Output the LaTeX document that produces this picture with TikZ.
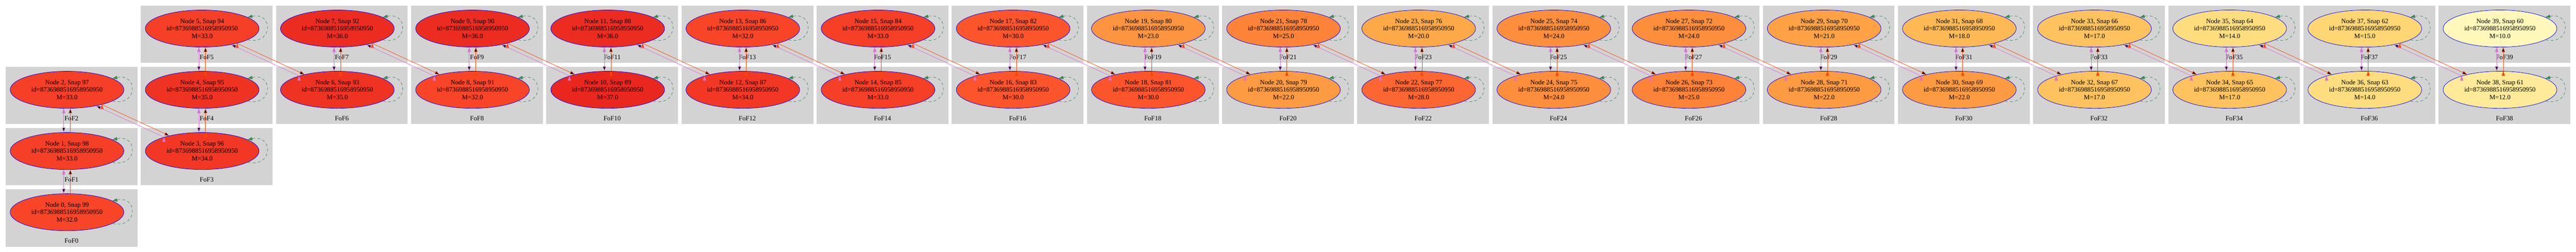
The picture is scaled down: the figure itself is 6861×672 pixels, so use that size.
\documentclass[tikz,border=0pt]{standalone}
\usepackage{fontspec}
\setmainfont{Liberation Serif}
\usetikzlibrary{shapes.geometric,positioning,arrows.meta}

\definecolor{fofgray}{HTML}{D3D3D3}
\definecolor{seagreen}{HTML}{2E8B57}
\definecolor{orchid}{HTML}{DA70D6}
\definecolor{orangered}{HTML}{FF4500}
\definecolor{mass10}{HTML}{FFF8BA}
\definecolor{mass12}{HTML}{FFEA9A}
\definecolor{mass14}{HTML}{FEDD7F}
\definecolor{mass15}{HTML}{FED673}
\definecolor{mass17}{HTML}{FEC25E}
\definecolor{mass18}{HTML}{FEB954}
\definecolor{mass20}{HTML}{FEA948}
\definecolor{mass21}{HTML}{FEA245}
\definecolor{mass22}{HTML}{FD9B42}
\definecolor{mass23}{HTML}{FD943F}
\definecolor{mass24}{HTML}{FD8E3C}
\definecolor{mass25}{HTML}{FD8339}
\definecolor{mass28}{HTML}{FC6631}
\definecolor{mass30}{HTML}{FC552C}
\definecolor{mass32}{HTML}{F84528}
\definecolor{mass33}{HTML}{F53F26}
\definecolor{mass34}{HTML}{F23824}
\definecolor{mass35}{HTML}{EF3323}
\definecolor{mass36}{HTML}{EC2C21}
\definecolor{mass37}{HTML}{E9271F}

\tikzset{
	fof/.style={rectangle,fill=fofgray,inner sep=0pt,minimum width=280.8pt,minimum height=122.4pt},
	fofname/.style={anchor=base,yshift=7.8pt,inner sep=0pt,font=\fontsize{14pt}{16pt}\selectfont},
	halo/.style={ellipse,draw=blue,line width=0.8pt,inner sep=0pt,minimum width=242.4pt,minimum height=79.2pt,
		align=center,font=\fontsize{14pt}{16pt}\selectfont},
	selfloop/.style={draw=seagreen,line width=0.8pt,dash pattern=on 6pt off 5pt,-{Triangle[length=10pt,width=7pt]},
		to path={(\tikztostart.-14) .. controls +(68,-15) and +(69,15) .. (\tikztostart.14)}},
	prog/.style={draw=orangered,line width=0.8pt,-{Triangle[length=10pt,width=7pt]}},
	desc/.style={draw=orchid,line width=0.8pt,-{Triangle[length=10pt,width=7pt]}}
}

\begin{document}
\begin{tikzpicture}[x=0.8pt,y=0.8pt,node distance=130.67pt and 288pt,on grid]
			\useasboundingbox (0,0) rectangle (6861,672);
			% FoF0 - FoF2
			\node[fof,label={[fofname]south:FoF0}] (fof0) at (190.5,90.5) {};
			\node[fof,label={[fofname]south:FoF1}] (fof1) [above=of fof0] {};
			\node[fof,label={[fofname]south:FoF2}] (fof2) [above=of fof1] {};
			\node[halo,fill=mass32] (n0) [above left=12.2pt and 9.6pt of fof0] {Node 0, Snap 99\\id=8736988516958950950\\M=32.0};
				\path (n0) edge[selfloop] (n0);
			\node[halo,fill=mass33] (n1) [above left=12.2pt and 9.6pt of fof1] {Node 1, Snap 98\\id=8736988516958950950\\M=33.0};
				\path (n1) edge[selfloop] (n1);
				\path[prog] (n0.80) edge (n1.-80);
				\path[desc] (n1.-100) edge (n0.100);
			\node[halo,fill=mass33] (n2) [above left=12.2pt and 9.6pt of fof2] {Node 2, Snap 97\\id=8736988516958950950\\M=33.0};
				\path (n2) edge[selfloop] (n2);
				\path[prog] (n1.80) edge (n2.-80);
				\path[desc] (n2.-100) edge (n1.100);
			% FoF3 - FoF5
			\node[fof,label={[fofname]south:FoF3}] (fof3) [right=of fof1] {};
			\node[fof,label={[fofname]south:FoF4}] (fof4) [above=of fof3] {};
			\node[fof,label={[fofname]south:FoF5}] (fof5) [above=of fof4] {};
			\node[halo,fill=mass34] (n3) [above left=12.2pt and 9.6pt of fof3] {Node 3, Snap 96\\id=8736988516958950950\\M=34.0};
				\path (n3) edge[selfloop] (n3);
				\path[prog] (n2.-23) edge (n3.155);
				\path[desc] (n3.160) edge (n2.-29);
			\node[halo,fill=mass35] (n4) [above left=12.2pt and 9.6pt of fof4] {Node 4, Snap 95\\id=8736988516958950950\\M=35.0};
				\path (n4) edge[selfloop] (n4);
				\path[prog] (n3.80) edge (n4.-80);
				\path[desc] (n4.-100) edge (n3.100);
			\node[halo,fill=mass33] (n5) [above left=12.2pt and 9.6pt of fof5] {Node 5, Snap 94\\id=8736988516958950950\\M=33.0};
				\path (n5) edge[selfloop] (n5);
				\path[prog] (n4.80) edge (n5.-80);
				\path[desc] (n5.-100) edge (n4.100);
			% FoF6, FoF7
			\node[fof,label={[fofname]south:FoF6}] (fof6) [right=of fof4] {};
			\node[fof,label={[fofname]south:FoF7}] (fof7) [above=of fof6] {};
			\node[halo,fill=mass35] (n6) [above left=12.2pt and 9.6pt of fof6] {Node 6, Snap 93\\id=8736988516958950950\\M=35.0};
				\path (n6) edge[selfloop] (n6);
				\path[prog] (n5.-23) edge (n6.155);
				\path[desc] (n6.160) edge (n5.-29);
			\node[halo,fill=mass36] (n7) [above left=12.2pt and 9.6pt of fof7] {Node 7, Snap 92\\id=8736988516958950950\\M=36.0};
				\path (n7) edge[selfloop] (n7);
				\path[prog] (n6.80) edge (n7.-80);
				\path[desc] (n7.-100) edge (n6.100);
			% FoF8, FoF9
			\node[fof,label={[fofname]south:FoF8}] (fof8) [right=of fof6] {};
			\node[fof,label={[fofname]south:FoF9}] (fof9) [above=of fof8] {};
			\node[halo,fill=mass32] (n8) [above left=12.2pt and 9.6pt of fof8] {Node 8, Snap 91\\id=8736988516958950950\\M=32.0};
				\path (n8) edge[selfloop] (n8);
				\path[prog] (n7.-23) edge (n8.155);
				\path[desc] (n8.160) edge (n7.-29);
			\node[halo,fill=mass36] (n9) [above left=12.2pt and 9.6pt of fof9] {Node 9, Snap 90\\id=8736988516958950950\\M=36.0};
				\path (n9) edge[selfloop] (n9);
				\path[prog] (n8.80) edge (n9.-80);
				\path[desc] (n9.-100) edge (n8.100);
			% FoF10, FoF11
			\node[fof,label={[fofname]south:FoF10}] (fof10) [right=of fof8] {};
			\node[fof,label={[fofname]south:FoF11}] (fof11) [above=of fof10] {};
			\node[halo,fill=mass37] (n10) [above left=12.2pt and 9.6pt of fof10] {Node 10, Snap 89\\id=8736988516958950950\\M=37.0};
				\path (n10) edge[selfloop] (n10);
				\path[prog] (n9.-23) edge (n10.155);
				\path[desc] (n10.160) edge (n9.-29);
			\node[halo,fill=mass36] (n11) [above left=12.2pt and 9.6pt of fof11] {Node 11, Snap 88\\id=8736988516958950950\\M=36.0};
				\path (n11) edge[selfloop] (n11);
				\path[prog] (n10.80) edge (n11.-80);
				\path[desc] (n11.-100) edge (n10.100);
			% FoF12, FoF13
			\node[fof,label={[fofname]south:FoF12}] (fof12) [right=of fof10] {};
			\node[fof,label={[fofname]south:FoF13}] (fof13) [above=of fof12] {};
			\node[halo,fill=mass34] (n12) [above left=12.2pt and 9.6pt of fof12] {Node 12, Snap 87\\id=8736988516958950950\\M=34.0};
				\path (n12) edge[selfloop] (n12);
				\path[prog] (n11.-23) edge (n12.155);
				\path[desc] (n12.160) edge (n11.-29);
			\node[halo,fill=mass32] (n13) [above left=12.2pt and 9.6pt of fof13] {Node 13, Snap 86\\id=8736988516958950950\\M=32.0};
				\path (n13) edge[selfloop] (n13);
				\path[prog] (n12.80) edge (n13.-80);
				\path[desc] (n13.-100) edge (n12.100);
			% FoF14, FoF15
			\node[fof,label={[fofname]south:FoF14}] (fof14) [right=of fof12] {};
			\node[fof,label={[fofname]south:FoF15}] (fof15) [above=of fof14] {};
			\node[halo,fill=mass33] (n14) [above left=12.2pt and 9.6pt of fof14] {Node 14, Snap 85\\id=8736988516958950950\\M=33.0};
				\path (n14) edge[selfloop] (n14);
				\path[prog] (n13.-23) edge (n14.155);
				\path[desc] (n14.160) edge (n13.-29);
			\node[halo,fill=mass33] (n15) [above left=12.2pt and 9.6pt of fof15] {Node 15, Snap 84\\id=8736988516958950950\\M=33.0};
				\path (n15) edge[selfloop] (n15);
				\path[prog] (n14.80) edge (n15.-80);
				\path[desc] (n15.-100) edge (n14.100);
			% FoF16, FoF17
			\node[fof,label={[fofname]south:FoF16}] (fof16) [right=of fof14] {};
			\node[fof,label={[fofname]south:FoF17}] (fof17) [above=of fof16] {};
			\node[halo,fill=mass30] (n16) [above left=12.2pt and 9.6pt of fof16] {Node 16, Snap 83\\id=8736988516958950950\\M=30.0};
				\path (n16) edge[selfloop] (n16);
				\path[prog] (n15.-23) edge (n16.155);
				\path[desc] (n16.160) edge (n15.-29);
			\node[halo,fill=mass30] (n17) [above left=12.2pt and 9.6pt of fof17] {Node 17, Snap 82\\id=8736988516958950950\\M=30.0};
				\path (n17) edge[selfloop] (n17);
				\path[prog] (n16.80) edge (n17.-80);
				\path[desc] (n17.-100) edge (n16.100);
			% FoF18, FoF19
			\node[fof,label={[fofname]south:FoF18}] (fof18) [right=of fof16] {};
			\node[fof,label={[fofname]south:FoF19}] (fof19) [above=of fof18] {};
			\node[halo,fill=mass30] (n18) [above left=12.2pt and 9.6pt of fof18] {Node 18, Snap 81\\id=8736988516958950950\\M=30.0};
				\path (n18) edge[selfloop] (n18);
				\path[prog] (n17.-23) edge (n18.155);
				\path[desc] (n18.160) edge (n17.-29);
			\node[halo,fill=mass23] (n19) [above left=12.2pt and 9.6pt of fof19] {Node 19, Snap 80\\id=8736988516958950950\\M=23.0};
				\path (n19) edge[selfloop] (n19);
				\path[prog] (n18.80) edge (n19.-80);
				\path[desc] (n19.-100) edge (n18.100);
			% FoF20, FoF21
			\node[fof,label={[fofname]south:FoF20}] (fof20) [right=of fof18] {};
			\node[fof,label={[fofname]south:FoF21}] (fof21) [above=of fof20] {};
			\node[halo,fill=mass22] (n20) [above left=12.2pt and 9.6pt of fof20] {Node 20, Snap 79\\id=8736988516958950950\\M=22.0};
				\path (n20) edge[selfloop] (n20);
				\path[prog] (n19.-23) edge (n20.155);
				\path[desc] (n20.160) edge (n19.-29);
			\node[halo,fill=mass25] (n21) [above left=12.2pt and 9.6pt of fof21] {Node 21, Snap 78\\id=8736988516958950950\\M=25.0};
				\path (n21) edge[selfloop] (n21);
				\path[prog] (n20.80) edge (n21.-80);
				\path[desc] (n21.-100) edge (n20.100);
			% FoF22, FoF23
			\node[fof,label={[fofname]south:FoF22}] (fof22) [right=of fof20] {};
			\node[fof,label={[fofname]south:FoF23}] (fof23) [above=of fof22] {};
			\node[halo,fill=mass28] (n22) [above left=12.2pt and 9.6pt of fof22] {Node 22, Snap 77\\id=8736988516958950950\\M=28.0};
				\path (n22) edge[selfloop] (n22);
				\path[prog] (n21.-23) edge (n22.155);
				\path[desc] (n22.160) edge (n21.-29);
			\node[halo,fill=mass20] (n23) [above left=12.2pt and 9.6pt of fof23] {Node 23, Snap 76\\id=8736988516958950950\\M=20.0};
				\path (n23) edge[selfloop] (n23);
				\path[prog] (n22.80) edge (n23.-80);
				\path[desc] (n23.-100) edge (n22.100);
			% FoF24, FoF25
			\node[fof,label={[fofname]south:FoF24}] (fof24) [right=of fof22] {};
			\node[fof,label={[fofname]south:FoF25}] (fof25) [above=of fof24] {};
			\node[halo,fill=mass24] (n24) [above left=12.2pt and 9.6pt of fof24] {Node 24, Snap 75\\id=8736988516958950950\\M=24.0};
				\path (n24) edge[selfloop] (n24);
				\path[prog] (n23.-23) edge (n24.155);
				\path[desc] (n24.160) edge (n23.-29);
			\node[halo,fill=mass24] (n25) [above left=12.2pt and 9.6pt of fof25] {Node 25, Snap 74\\id=8736988516958950950\\M=24.0};
				\path (n25) edge[selfloop] (n25);
				\path[prog] (n24.80) edge (n25.-80);
				\path[desc] (n25.-100) edge (n24.100);
			% FoF26, FoF27
			\node[fof,label={[fofname]south:FoF26}] (fof26) [right=of fof24] {};
			\node[fof,label={[fofname]south:FoF27}] (fof27) [above=of fof26] {};
			\node[halo,fill=mass25] (n26) [above left=12.2pt and 9.6pt of fof26] {Node 26, Snap 73\\id=8736988516958950950\\M=25.0};
				\path (n26) edge[selfloop] (n26);
				\path[prog] (n25.-23) edge (n26.155);
				\path[desc] (n26.160) edge (n25.-29);
			\node[halo,fill=mass24] (n27) [above left=12.2pt and 9.6pt of fof27] {Node 27, Snap 72\\id=8736988516958950950\\M=24.0};
				\path (n27) edge[selfloop] (n27);
				\path[prog] (n26.80) edge (n27.-80);
				\path[desc] (n27.-100) edge (n26.100);
			% FoF28, FoF29
			\node[fof,label={[fofname]south:FoF28}] (fof28) [right=of fof26] {};
			\node[fof,label={[fofname]south:FoF29}] (fof29) [above=of fof28] {};
			\node[halo,fill=mass22] (n28) [above left=12.2pt and 9.6pt of fof28] {Node 28, Snap 71\\id=8736988516958950950\\M=22.0};
				\path (n28) edge[selfloop] (n28);
				\path[prog] (n27.-23) edge (n28.155);
				\path[desc] (n28.160) edge (n27.-29);
			\node[halo,fill=mass21] (n29) [above left=12.2pt and 9.6pt of fof29] {Node 29, Snap 70\\id=8736988516958950950\\M=21.0};
				\path (n29) edge[selfloop] (n29);
				\path[prog] (n28.80) edge (n29.-80);
				\path[desc] (n29.-100) edge (n28.100);
			% FoF30, FoF31
			\node[fof,label={[fofname]south:FoF30}] (fof30) [right=of fof28] {};
			\node[fof,label={[fofname]south:FoF31}] (fof31) [above=of fof30] {};
			\node[halo,fill=mass22] (n30) [above left=12.2pt and 9.6pt of fof30] {Node 30, Snap 69\\id=8736988516958950950\\M=22.0};
				\path (n30) edge[selfloop] (n30);
				\path[prog] (n29.-23) edge (n30.155);
				\path[desc] (n30.160) edge (n29.-29);
			\node[halo,fill=mass18] (n31) [above left=12.2pt and 9.6pt of fof31] {Node 31, Snap 68\\id=8736988516958950950\\M=18.0};
				\path (n31) edge[selfloop] (n31);
				\path[prog] (n30.80) edge (n31.-80);
				\path[desc] (n31.-100) edge (n30.100);
			% FoF32, FoF33
			\node[fof,label={[fofname]south:FoF32}] (fof32) [right=of fof30] {};
			\node[fof,label={[fofname]south:FoF33}] (fof33) [above=of fof32] {};
			\node[halo,fill=mass17] (n32) [above left=12.2pt and 9.6pt of fof32] {Node 32, Snap 67\\id=8736988516958950950\\M=17.0};
				\path (n32) edge[selfloop] (n32);
				\path[prog] (n31.-23) edge (n32.155);
				\path[desc] (n32.160) edge (n31.-29);
			\node[halo,fill=mass17] (n33) [above left=12.2pt and 9.6pt of fof33] {Node 33, Snap 66\\id=8736988516958950950\\M=17.0};
				\path (n33) edge[selfloop] (n33);
				\path[prog] (n32.80) edge (n33.-80);
				\path[desc] (n33.-100) edge (n32.100);
			% FoF34, FoF35
			\node[fof,label={[fofname]south:FoF34}] (fof34) [right=of fof32] {};
			\node[fof,label={[fofname]south:FoF35}] (fof35) [above=of fof34] {};
			\node[halo,fill=mass17] (n34) [above left=12.2pt and 9.6pt of fof34] {Node 34, Snap 65\\id=8736988516958950950\\M=17.0};
				\path (n34) edge[selfloop] (n34);
				\path[prog] (n33.-23) edge (n34.155);
				\path[desc] (n34.160) edge (n33.-29);
			\node[halo,fill=mass14] (n35) [above left=12.2pt and 9.6pt of fof35] {Node 35, Snap 64\\id=8736988516958950950\\M=14.0};
				\path (n35) edge[selfloop] (n35);
				\path[prog] (n34.80) edge (n35.-80);
				\path[desc] (n35.-100) edge (n34.100);
			% FoF36, FoF37
			\node[fof,label={[fofname]south:FoF36}] (fof36) [right=of fof34] {};
			\node[fof,label={[fofname]south:FoF37}] (fof37) [above=of fof36] {};
			\node[halo,fill=mass14] (n36) [above left=12.2pt and 9.6pt of fof36] {Node 36, Snap 63\\id=8736988516958950950\\M=14.0};
				\path (n36) edge[selfloop] (n36);
				\path[prog] (n35.-23) edge (n36.155);
				\path[desc] (n36.160) edge (n35.-29);
			\node[halo,fill=mass15] (n37) [above left=12.2pt and 9.6pt of fof37] {Node 37, Snap 62\\id=8736988516958950950\\M=15.0};
				\path (n37) edge[selfloop] (n37);
				\path[prog] (n36.80) edge (n37.-80);
				\path[desc] (n37.-100) edge (n36.100);
			% FoF38, FoF39
			\node[fof,label={[fofname]south:FoF38}] (fof38) [right=of fof36] {};
			\node[fof,label={[fofname]south:FoF39}] (fof39) [above=of fof38] {};
			\node[halo,fill=mass12] (n38) [above left=12.2pt and 9.6pt of fof38] {Node 38, Snap 61\\id=8736988516958950950\\M=12.0};
				\path (n38) edge[selfloop] (n38);
				\path[prog] (n37.-23) edge (n38.155);
				\path[desc] (n38.160) edge (n37.-29);
			\node[halo,fill=mass10] (n39) [above left=12.2pt and 9.6pt of fof39] {Node 39, Snap 60\\id=8736988516958950950\\M=10.0};
				\path (n39) edge[selfloop] (n39);
				\path[prog] (n38.80) edge (n39.-80);
				\path[desc] (n39.-100) edge (n38.100);
		\end{tikzpicture}
\end{document}
